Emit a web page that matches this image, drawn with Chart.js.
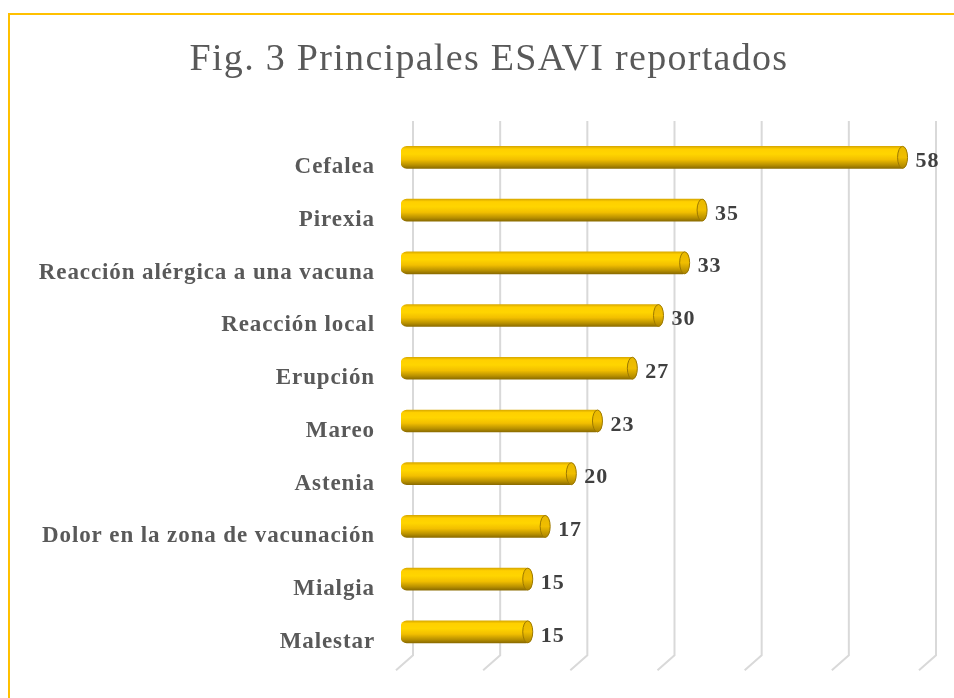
<!DOCTYPE html>
<html><head><meta charset="utf-8">
<script src="https://cdn.jsdelivr.net/npm/chart.js@4"></script>
<style>
html,body{margin:0;padding:0;background:#fff;}
#wrap{position:relative;width:954px;height:698px;overflow:hidden;}
#frame{position:absolute;left:8px;top:13px;width:1000px;height:800px;border-left:2px solid #ffc000;border-top:2px solid #ffc000;}
canvas{position:absolute;left:0;top:0;}
</style></head><body>
<div id="wrap"><div id="frame"></div><canvas id="c" width="954" height="698"></canvas></div>
<script>
const categories = ["Cefalea","Pirexia","Reacción alérgica a una vacuna","Reacción local","Erupción","Mareo","Astenia","Dolor en la zona de vacunación","Mialgia","Malestar"];
const values = [58,35,33,30,27,23,20,17,15,15];
const titleText = "Fig. 3 Principales ESAVI reportados";
const xMin = 0, xMax = 60, xStep = 10;

const spacing = {
  id:'spacing',
  beforeInit(chart){ chart.ctx.letterSpacing = '0.9px'; },
  beforeUpdate(chart){ chart.ctx.letterSpacing = '0.9px'; }
};

const titlePlugin = {
  id:'titlePlugin',
  afterDraw(chart){
    const ctx = chart.ctx;
    ctx.save();
    ctx.letterSpacing = '1.3px';
    ctx.font = '38px "Liberation Serif"';
    ctx.fillStyle = '#595959';
    ctx.textAlign = 'center';
    ctx.textBaseline = 'middle';
    ctx.fillText(titleText, 489, 60);
    ctx.restore();
  }
};

const grid3d = {
  id:'grid3d',
  beforeDatasetsDraw(chart){
    const {ctx, chartArea, scales:{x}} = chart;
    ctx.save();
    ctx.strokeStyle = '#d9d9d9';
    ctx.lineWidth = 2;
    for(let v=xMin; v<=xMax; v+=xStep){
      const px = x.getPixelForValue(v) + 12;
      ctx.beginPath();
      ctx.moveTo(px, chartArea.top - 10);
      ctx.lineTo(px, chartArea.bottom - 3);
      ctx.lineTo(px - 17, chartArea.bottom + 12);
      ctx.stroke();
    }
    ctx.restore();
  }
};

const caps = {
  id:'caps',
  afterDatasetsDraw(chart){
    const {ctx} = chart;
    const meta = chart.getDatasetMeta(0);
    ctx.save();
    meta.data.forEach((bar, i) => {
      const h = bar.height, r = h/2, cx = bar.x - 4;
      const g = ctx.createLinearGradient(0, bar.y - r, 0, bar.y + r);
      g.addColorStop(0, '#e8b800');
      g.addColorStop(0.5, '#f0be00');
      g.addColorStop(1, '#a88200');
      ctx.beginPath();
      ctx.ellipse(cx, bar.y, 5, r, 0, 0, Math.PI*2);
      ctx.fillStyle = g;
      ctx.fill();
      ctx.strokeStyle = '#9c7800';
      ctx.lineWidth = 1;
      ctx.stroke();
      ctx.fillStyle = '#404040';
      ctx.font = 'bold 22px "Liberation Serif"';
      ctx.textAlign = 'left';
      ctx.textBaseline = 'middle';
      ctx.fillText(String(values[i]), bar.x + 9, bar.y + 4);
    });
    ctx.restore();
  }
};

new Chart(document.getElementById('c'), {
  type:'bar',
  data:{
    labels: categories,
    datasets:[{
      data: values,
      barThickness: 22,
      borderRadius: 6,
      borderSkipped: false,
      backgroundColor(context){
        const chart = context.chart;
        const ys = chart.scales.y;
        if(!ys) return '#ffc000';
        const cy = ys.getPixelForValue(context.dataIndex);
        if(!isFinite(cy)) return '#ffc000';
        const g = chart.ctx.createLinearGradient(0, cy - 11, 0, cy + 11);
        g.addColorStop(0, '#d9a900');
        g.addColorStop(0.12, '#ffd000');
        g.addColorStop(0.35, '#ffd500');
        g.addColorStop(0.6, '#f2bf00');
        g.addColorStop(0.85, '#b89000');
        g.addColorStop(1, '#8c6c00');
        return g;
      }
    }]
  },
  options:{
    indexAxis:'y',
    responsive:false,
    animation:false,
    events:[],
    layout:{padding:{top:131,right:30,bottom:33,left:0}},
    plugins:{
      legend:{display:false},
      tooltip:{enabled:false},
      title:{display:false}
    },
    scales:{
      x:{display:false,min:xMin,max:xMax,ticks:{stepSize:xStep}},
      y:{
        grid:{display:false,drawTicks:false},
        border:{display:false},
        ticks:{color:'#595959',font:{family:'"Liberation Serif"',size:23,weight:'bold'},padding:26,labelOffset:10},
        afterFit(scale){ scale.width = 401; }
      }
    }
  },
  plugins:[spacing, titlePlugin, grid3d, caps]
});
</script>
</body></html>
